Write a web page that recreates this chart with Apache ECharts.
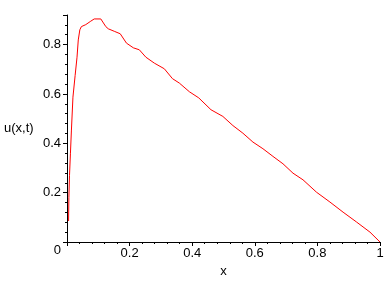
<!DOCTYPE html>
<html>
<head>
<meta charset="utf-8">
<script src="https://cdn.jsdelivr.net/npm/echarts@6/dist/echarts.min.js"></script>
<style>
html,body{margin:0;padding:0;background:#fff;}
#c{width:388px;height:288px;}
</style>
</head>
<body>
<div id="c"></div>
<script>
var xValues = [0.005,0.006,0.008,0.011,0.014,0.019,0.026,0.032,0.036,0.041,0.046,0.06,0.076,0.087,0.108,0.124,0.132,0.151,0.17,0.19,0.212,0.231,0.252,0.279,0.311,0.337,0.359,0.391,0.421,0.46,0.498,0.53,0.562,0.594,0.626,0.658,0.69,0.722,0.754,0.797,0.84,0.882,0.925,0.968,1.0];
var uValues = [0.085,0.18,0.27,0.36,0.45,0.587,0.675,0.749,0.819,0.86,0.873,0.881,0.895,0.904,0.904,0.873,0.864,0.854,0.844,0.806,0.787,0.779,0.749,0.725,0.702,0.662,0.644,0.609,0.584,0.536,0.509,0.472,0.441,0.405,0.378,0.347,0.317,0.279,0.252,0.202,0.162,0.121,0.081,0.04,0.0];
var xTickLabels = ['0.2','0.4','0.6','0.8','1'];
var yTickLabels = ['0','0.2','0.4','0.6','0.8'];

var data = xValues.map(function(x,i){return [x,uValues[i]];});
var font = 'Liberation Sans';
var chart = echarts.init(document.getElementById('c'), null, {renderer:'canvas'});
chart.setOption({
  animation:false,
  backgroundColor:'#fff',
  grid:{left:67,right:8,top:15,bottom:46,containLabel:false},
  xAxis:{
    type:'value',min:0,max:1,interval:0.2,
    name:'x',nameLocation:'middle',nameGap:29,
    nameTextStyle:{color:'#000',fontFamily:font,fontSize:13,verticalAlign:'middle'},
    axisLine:{lineStyle:{color:'#000',width:1}},
    axisTick:{show:true,length:4,inside:false,lineStyle:{color:'#000'}},
    minorTick:{show:true,splitNumber:5,length:2,lineStyle:{color:'#000'}},
    splitLine:{show:false},
    axisLabel:{color:'#000',fontFamily:font,fontSize:13,margin:5,showMinLabel:false,
      formatter:function(v){var i=Math.round(v/0.2)-1;return xTickLabels[i]!==undefined?xTickLabels[i]:'';}}
  },
  yAxis:{
    type:'value',min:0,max:0.92,interval:0.2,
    name:'u(x,t)',nameLocation:'middle',nameGap:63,nameRotate:0,
    nameTextStyle:{color:'#000',fontFamily:font,fontSize:13,align:'left',verticalAlign:'middle',padding:[5,0,0,0]},
    axisLine:{lineStyle:{color:'#000',width:1}},
    axisTick:{show:true,length:4,inside:false,lineStyle:{color:'#000'}},
    minorTick:{show:true,splitNumber:5,length:2,lineStyle:{color:'#000'}},
    splitLine:{show:false},
    axisLabel:{color:'#000',fontFamily:font,fontSize:13,margin:6,showMaxLabel:false,
      formatter:function(v){var i=Math.round(v/0.2);if(Math.abs(v-i*0.2)>1e-6)return '';if(i===0)return '{z|'+yTickLabels[0]+'}';return yTickLabels[i]!==undefined?yTickLabels[i]:'';},
      rich:{z:{color:'#000',fontFamily:font,fontSize:13,padding:[16,0,0,0]}}}
  },
  series:[{
    type:'line',data:data,showSymbol:false,smooth:false,
    lineStyle:{color:'#ff0000',width:1},
    itemStyle:{color:'#ff0000'}
  }]
});
</script>
</body>
</html>
